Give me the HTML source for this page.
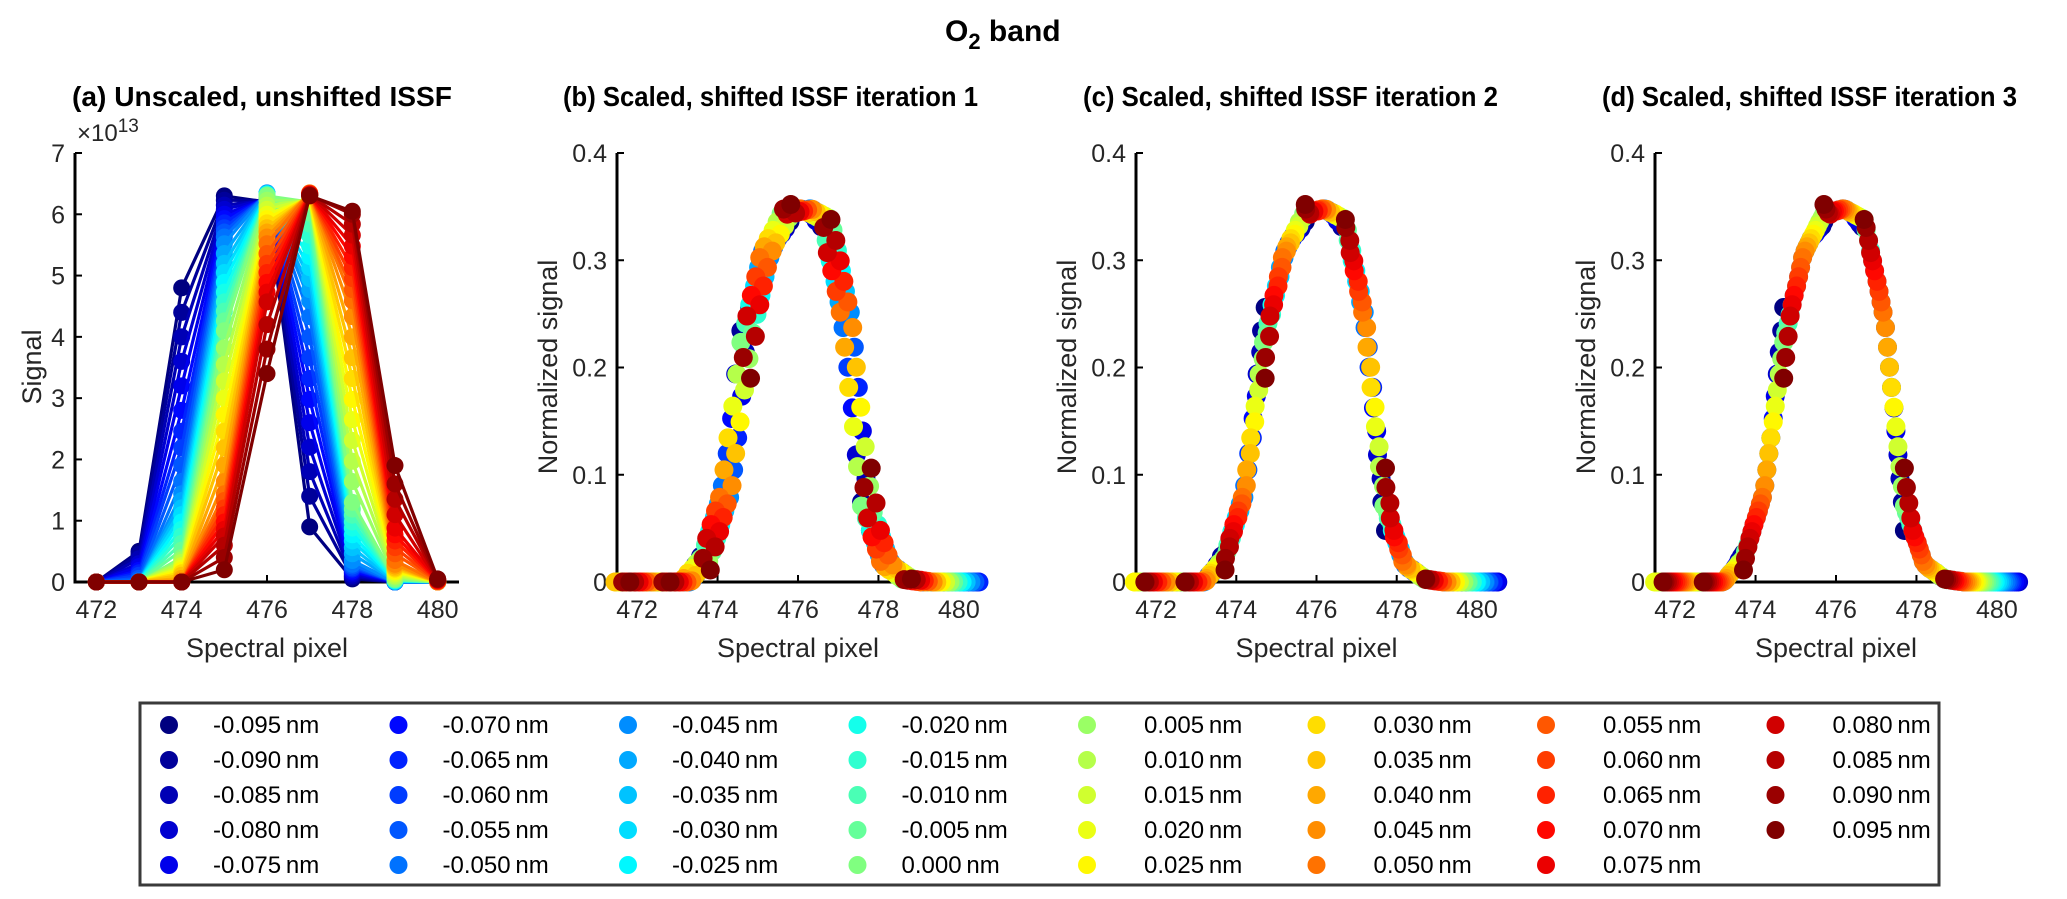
<!DOCTYPE html>
<html><head><meta charset="utf-8">
<style>
html,body{margin:0;padding:0;background:#fff;}
svg{display:block;font-family:"Liberation Sans",Arial,sans-serif;}
</style></head>
<body>
<svg id="fig" width="2067" height="899" viewBox="0 0 2067 899" xmlns="http://www.w3.org/2000/svg">
<rect width="2067" height="899" fill="#fff"/>
<text x="945" y="41" font-size="30" font-weight="bold">O<tspan dy="8" font-size="22">2</tspan><tspan dy="-8"> band</tspan></text>
<g id="panels"></g>
<g id="legend"></g>
</svg>
<script>
// ---- data ----
const pixels = [472,473,474,475,476,477,478,479,480];
const shiftLabels = ["-0.095","-0.090","-0.085","-0.080","-0.075","-0.070","-0.065","-0.060","-0.055","-0.050","-0.045","-0.040","-0.035","-0.030","-0.025","-0.020","-0.015","-0.010","-0.005","0.000","0.005","0.010","0.015","0.020","0.025","0.030","0.035","0.040","0.045","0.050","0.055","0.060","0.065","0.070","0.075","0.080","0.085","0.090","0.095"];
// signal (x 1e13) per shift, per pixel 472..480
const signalRows = [
[0,.5,4.8,6.3,6.2,0.9,.05,0,0],
[0,.45,4.4,6.23,6.22,1.4,.08,0,0],
[0,.38,4.0,6.15,6.23,1.8,.10,0,0],
[0,.3,3.6,6.08,6.25,2.2,.13,0,0],
[0,.25,3.2,6.0,6.26,2.6,.16,0,0],
[0,.19,2.8,5.93,6.28,2.98,.18,0,0],
[0,.15,2.46,5.86,6.3,3.32,.21,0,0],
[0,.11,2.19,5.78,6.31,3.66,.23,0,0],
[0,.06,1.91,5.71,6.33,4.0,.26,0,0],
[0,.02,1.64,5.63,6.34,4.33,.29,0,0],
[0,0,1.44,5.52,6.35,4.59,.35,0,0],
[0,0,1.33,5.36,6.34,4.77,.46,.01,0],
[0,0,1.21,5.2,6.34,4.95,.56,.01,0],
[0,0,1.1,5.05,6.33,5.13,.67,.02,0],
[0,0,.98,4.89,6.33,5.31,.77,.02,0],
[0,0,.86,4.73,6.32,5.48,.88,.03,0],
[0,0,.75,4.57,6.32,5.66,.98,.03,0],
[0,0,.63,4.42,6.31,5.84,1.09,.04,0],
[0,0,.52,4.26,6.31,6.02,1.19,.04,0],
[0,0,.4,4.1,6.3,6.2,1.3,.05,0],
[0,0,.36,3.82,6.23,6.22,1.64,.08,0],
[0,0,.32,3.55,6.15,6.23,1.97,.10,0],
[0,0,.27,3.28,6.08,6.25,2.31,.13,0],
[0,0,.23,3.0,6.0,6.26,2.65,.16,0],
[0,0,.19,2.73,5.93,6.28,2.98,.18,0],
[0,0,.15,2.46,5.86,6.3,3.32,.21,0],
[0,0,.11,2.19,5.78,6.31,3.66,.23,0],
[0,0,.06,1.91,5.71,6.33,4.0,.26,0],
[0,0,.02,1.64,5.63,6.34,4.33,.29,0],
[0,0,0,1.44,5.52,6.35,4.59,.35,0],
[0,0,0,1.33,5.36,6.34,4.77,.46,.01],
[0,0,0,1.21,5.2,6.34,4.95,.56,.01],
[0,0,0,1.1,5.05,6.33,5.13,.67,.02],
[0,0,0,.98,4.89,6.33,5.31,.77,.02],
[0,0,0,.86,4.73,6.32,5.48,.88,.03],
[0,0,0,.75,4.57,6.32,5.66,1.1,.03],
[0,0,0,.6,4.2,6.31,5.84,1.35,.04],
[0,0,0,.4,3.8,6.31,6.0,1.6,.04],
[0,0,0,.2,3.4,6.3,6.05,1.9,.05]
];
// pixel-shift applied per shift for each iteration
const shiftIter1 = [0.80,0.58,0.69,0.45,0.60,0.35,0.50,0.24,0.40,0.12,0.30,0.02,0.18,-0.08,0.08,-0.20,-0.02,-0.30,-0.13,-0.42,-0.22,-0.52,-0.33,-0.62,-0.44,-0.74,-0.55,-0.84,-0.64,-0.95,-0.76,-1.05,-0.86,-1.16,-0.95,-1.27,-1.06,-1.36,-1.18];
const shiftIter2 = [0.72,0.63,0.61,0.52,0.50,0.42,0.40,0.31,0.29,0.21,0.19,0.10,0.09,0.00,-0.02,-0.11,-0.12,-0.21,-0.23,-0.32,-0.33,-0.43,-0.44,-0.53,-0.54,-0.64,-0.65,-0.74,-0.75,-0.85,-0.86,-0.95,-0.96,-1.06,-1.07,-1.16,-1.17,-1.27,-1.28];
const shiftIter3 = [0.70,0.65,0.59,0.54,0.49,0.44,0.38,0.33,0.28,0.23,0.17,0.12,0.07,0.02,-0.04,-0.09,-0.14,-0.19,-0.25,-0.30,-0.35,-0.41,-0.46,-0.51,-0.56,-0.62,-0.67,-0.72,-0.77,-0.83,-0.88,-0.93,-0.98,-1.04,-1.09,-1.14,-1.19,-1.25,-1.30];
const xTicks = [472,474,476,478,480];
const yTicksA = [0,1,2,3,4,5,6,7];
const yTicksN = [0,0.1,0.2,0.3,0.4];
const yTickLabelsN = ["0","0.1","0.2","0.3","0.4"];

// ---- rendering ----
const NS = "http://www.w3.org/2000/svg";
function mk(tag, attrs, parent){const e=document.createElementNS(NS,tag);for(const k in attrs)e.setAttribute(k,attrs[k]);if(parent)parent.appendChild(e);return e;}
function jet(t){const c=v=>Math.round(255*Math.max(0,Math.min(1,v)));return `rgb(${c(1.5-Math.abs(4*t-3))},${c(1.5-Math.abs(4*t-2))},${c(1.5-Math.abs(4*t-1))})`;}
const N = shiftLabels.length;
const colors = shiftLabels.map((_,i)=>jet(i/(N-1)));
const TOP=153, BOT=582, XMIN=471.5, XMAX=480.5;

const panels = [
 {id:"a", x0:75, x1:459, ymax:7, title:"(a) Unscaled, unshifted ISSF", tx:72, tw:380, ylabel:"Signal", ylx:41},
 {id:"b", x0:617, x1:979, ymax:0.4, title:"(b) Scaled, shifted ISSF iteration 1", tx:563, tw:415, ylabel:"Normalized signal", ylx:557, shifts:shiftIter1},
 {id:"c", x0:1136, x1:1497, ymax:0.4, title:"(c) Scaled, shifted ISSF iteration 2", tx:1083, tw:415, ylabel:"Normalized signal", ylx:1076, shifts:shiftIter2},
 {id:"d", x0:1655, x1:2017, ymax:0.4, title:"(d) Scaled, shifted ISSF iteration 3", tx:1602, tw:415, ylabel:"Normalized signal", ylx:1595, shifts:shiftIter3}
];
const root = document.getElementById("panels");
panels.forEach(p=>{
  const g = mk("g",{},root);
  
  
  const sx = v => p.x0 + (v-XMIN)/(XMAX-XMIN)*(p.x1-p.x0);
  const sy = v => BOT - v/p.ymax*(BOT-TOP);
  const t = mk("text",{x:p.tx,y:106,"font-size":28,"font-weight":"bold",textLength:p.tw,lengthAdjust:"spacingAndGlyphs"},g);
  t.textContent = p.title;
  
  
  const ax = mk("g",{stroke:"#000","stroke-width":3,fill:"none"},g);
  
  
  mk("path",{d:`M${p.x0} ${TOP}V${BOT}H${p.x1}`},ax);
  xTicks.forEach(v=>{
    mk("line",{x1:sx(v),x2:sx(v),y1:BOT,y2:BOT-7,stroke:"#000","stroke-width":2},g);
    const tl = mk("text",{x:sx(v),y:618,"font-size":25,"text-anchor":"middle",fill:"#262626"},g);
    tl.textContent = v;
    
    
  });
  const yt = p.id==="a" ? yTicksA : yTicksN;
  yt.forEach((v,k)=>{
    mk("line",{x1:p.x0,x2:p.x0+7,y1:sy(v),y2:sy(v),stroke:"#000","stroke-width":2},g);
    const tl = mk("text",{x:p.x0-10,y:sy(v)+9,"font-size":25,"text-anchor":"end",fill:"#262626"},g);
    tl.textContent = p.id==="a" ? v : yTickLabelsN[k];
    
    
  });
  const xl = mk("text",{x:(p.x0+p.x1)/2,y:657,"font-size":27,"text-anchor":"middle",fill:"#262626"},g);
  xl.textContent = "Spectral pixel";
  
  
  const yl = mk("text",{x:0,y:0,"font-size":27,"text-anchor":"middle",fill:"#262626",transform:`translate(${p.ylx},367) rotate(-90)`},g);
  yl.textContent = p.ylabel;
  
  
  if(p.id==="a"){
    const ex = mk("text",{x:77,y:141,"font-size":24,fill:"#262626"},g);
    ex.innerHTML = "×10<tspan dy='-9' font-size='19'>13</tspan>";
    
    
  }
  const dg = mk("g",{},g);
  
  
  signalRows.forEach((row,i)=>{
    const s = mk("g",{fill:colors[i],stroke:colors[i]},dg);
    
    
    if(p.id==="a"){
      const pts = row.map((v,k)=>sx(pixels[k])+","+sy(v)).join(" ");
      mk("polyline",{points:pts,fill:"none","stroke-width":3.2,"stroke-linejoin":"round"},s);
      row.forEach((v,k)=>{
        const c = mk("circle",{cx:sx(pixels[k]),cy:sy(v),r:8.5,stroke:"none"},s);
        
        
      });
    } else {
      const sum = row.reduce((a,b)=>a+b,0);
      row.forEach((v,k)=>{
        const x = pixels[k] + p.shifts[i];
        if(x < XMIN-0.05 || x > XMAX+0.05) return;
        const c = mk("circle",{cx:sx(x),cy:sy(v/sum),r:9.5,stroke:"none"},s);
        
        
      });
    }
  });
});

// legend
const lg = document.getElementById("legend");
const box = mk("rect",{x:140,y:703,width:1799,height:182,fill:"#fff",stroke:"#3a3a3a","stroke-width":3},lg);


shiftLabels.forEach((lab,i)=>{
  const col = Math.floor(i/5), row = i%5;
  const mx = 169 + col*229.5, my = 725 + row*35;
  const e = mk("g",{},lg);
  
  
  mk("circle",{cx:mx,cy:my,r:9,fill:colors[i]},e);
  const t = mk("text",{x:mx+(col<4?44:57),y:my+8,"font-size":24,fill:"#000"},e);
  t.textContent = lab+"\u2009nm";
});
</script>
</body></html>
